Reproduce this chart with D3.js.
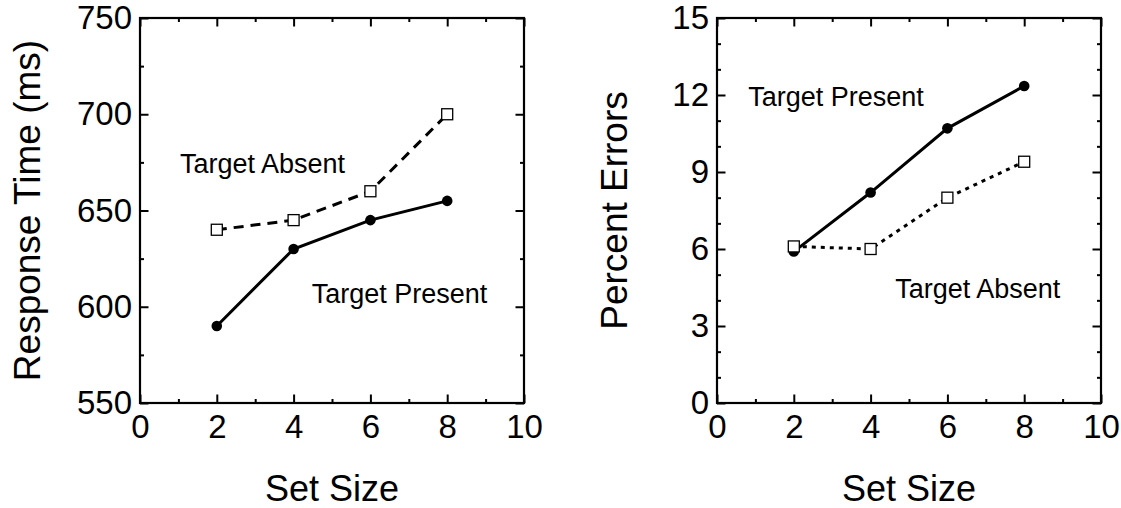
<!DOCTYPE html>
<html>
<head>
<meta charset="utf-8">
<script src="https://cdn.jsdelivr.net/npm/d3@7"></script>
<style>
  body { margin: 0; background: #fff; }
  svg text { font-family: "Liberation Sans", Arial, sans-serif; fill: #000; }
</style>
</head>
<body>
<script>
// values
const setSizes = [2, 4, 6, 8];
const rtPresent = [590, 630, 645, 655];
const rtAbsent = [640, 645, 660, 700];
const errPresent = [5.9, 8.2, 10.7, 12.35];
const errAbsent = [6.1, 6.0, 8.0, 9.4];

const xTicks = [0, 2, 4, 6, 8, 10];
const xMinor = [1, 3, 5, 7, 9];
const rtTicks = [550, 600, 650, 700, 750];
const rtMinor = [575, 625, 675, 725];
const errTicks = [0, 3, 6, 9, 12, 15];
const errMinor = [1, 2, 4, 5, 7, 8, 10, 11, 13, 14];

const width = 1121, height = 508;

const svg = d3.select("body")
              .append("svg")
              .attr("width", width)
              .attr("height", height);

const panels = [
  {
    left: 140, top: 18, w: 384, h: 385,
    yDomain: [550, 750], yTicks: rtTicks, yMinor: rtMinor,
    yTitle: "Response Time (ms)", titleX: 40,
    present: rtPresent, absent: rtAbsent, absentDash: "10,7",
    notes: [
      { text: "Target Absent", x: 1.04, y: 669.5 },
      { text: "Target Present", x: 4.47, y: 601.8 }
    ]
  },
  {
    left: 717, top: 18, w: 384, h: 385,
    yDomain: [0, 15], yTicks: errTicks, yMinor: errMinor,
    yTitle: "Percent Errors", titleX: 627,
    present: errPresent, absent: errAbsent, absentDash: "4,5",
    notes: [
      { text: "Target Present", x: 0.815, y: 11.57 },
      { text: "Target Absent", x: 4.64, y: 4.08 }
    ]
  }
];

panels.forEach(drawPanel);

function drawPanel(p) {
  const g = svg.append("g")
               .attr("transform", "translate(" + p.left + "," + p.top + ")");

  const x = d3.scaleLinear().domain([0, 10]).range([0, p.w]);
  const y = d3.scaleLinear().domain(p.yDomain).range([p.h, 0]);

  // inward ticks on all four sides, labels only bottom/left
  const sides = [
    { axis: d3.axisBottom(x), minor: d3.axisBottom(x), t: "translate(0," + p.h + ")", ticks: xTicks, minors: xMinor, label: true, pad: 12 },
    { axis: d3.axisTop(x), minor: d3.axisTop(x), t: "translate(0,0)", ticks: xTicks, minors: xMinor, label: false, pad: 0 },
    { axis: d3.axisLeft(y), minor: d3.axisLeft(y), t: "translate(0,0)", ticks: p.yTicks, minors: p.yMinor, label: true, pad: 8 },
    { axis: d3.axisRight(y), minor: d3.axisRight(y), t: "translate(" + p.w + ",0)", ticks: p.yTicks, minors: p.yMinor, label: false, pad: 0 }
  ];

  sides.forEach(s => {
    const ag = g.append("g").attr("transform", s.t);
    ag.call(s.minor.tickValues(s.minors).tickSize(-4).tickFormat(""));
    ag.select(".domain").remove();
    const mg = g.append("g").attr("transform", s.t);
    mg.call(s.axis.tickValues(s.ticks).tickSize(-8.5).tickPadding(s.pad)
                 .tickFormat(s.label ? d3.format("d") : ""));
    mg.select(".domain").remove();
    mg.selectAll("text")
      .style("font-size", "33px")
      .style("font-family", "'Liberation Sans', Arial, sans-serif");
  });

  g.selectAll(".tick line").attr("stroke", "#000").attr("stroke-width", 2);

  // frame
  g.append("rect")
   .attr("width", p.w)
   .attr("height", p.h)
   .attr("fill", "none")
   .attr("stroke", "#000")
   .attr("stroke-width", 2.2);

  // axis titles
  svg.append("text")
     .attr("transform", "translate(" + p.titleX + "," + (p.top + p.h / 2) + ") rotate(-90)")
     .attr("text-anchor", "middle")
     .style("font-size", "37px")
     .text(p.yTitle);

  svg.append("text")
     .attr("x", p.left + p.w / 2)
     .attr("y", 501)
     .attr("text-anchor", "middle")
     .style("font-size", "36px")
     .text("Set Size");

  const line = d3.line()
                 .x((d, i) => x(setSizes[i]))
                 .y(d => y(d));

  // target present: solid with filled dots
  g.append("path")
   .datum(p.present)
   .attr("d", line)
   .attr("fill", "none")
   .attr("stroke", "#000")
   .attr("stroke-width", 3);

  g.selectAll("circle.present")
   .data(p.present).enter()
   .append("circle")
   .attr("class", "present")
   .attr("cx", (d, i) => x(setSizes[i]))
   .attr("cy", d => y(d))
   .attr("r", 5.3)
   .attr("fill", "#000");

  // target absent: dashed with open squares
  g.append("path")
   .datum(p.absent)
   .attr("d", line)
   .attr("fill", "none")
   .attr("stroke", "#000")
   .attr("stroke-width", 3)
   .attr("stroke-dasharray", p.absentDash);

  g.selectAll("rect.absent")
   .data(p.absent).enter()
   .append("rect")
   .attr("class", "absent")
   .attr("x", (d, i) => x(setSizes[i]) - 5.5)
   .attr("y", d => y(d) - 5.5)
   .attr("width", 11)
   .attr("height", 11)
   .attr("fill", "#fff")
   .attr("stroke", "#000")
   .attr("stroke-width", 1.3);

  // in-plot labels
  g.selectAll("text.note")
   .data(p.notes).enter()
   .append("text")
   .attr("class", "note")
   .attr("x", d => x(d.x))
   .attr("y", d => y(d.y))
   .style("font-size", "27px")
   .text(d => d.text);
}
</script>
</body>
</html>
